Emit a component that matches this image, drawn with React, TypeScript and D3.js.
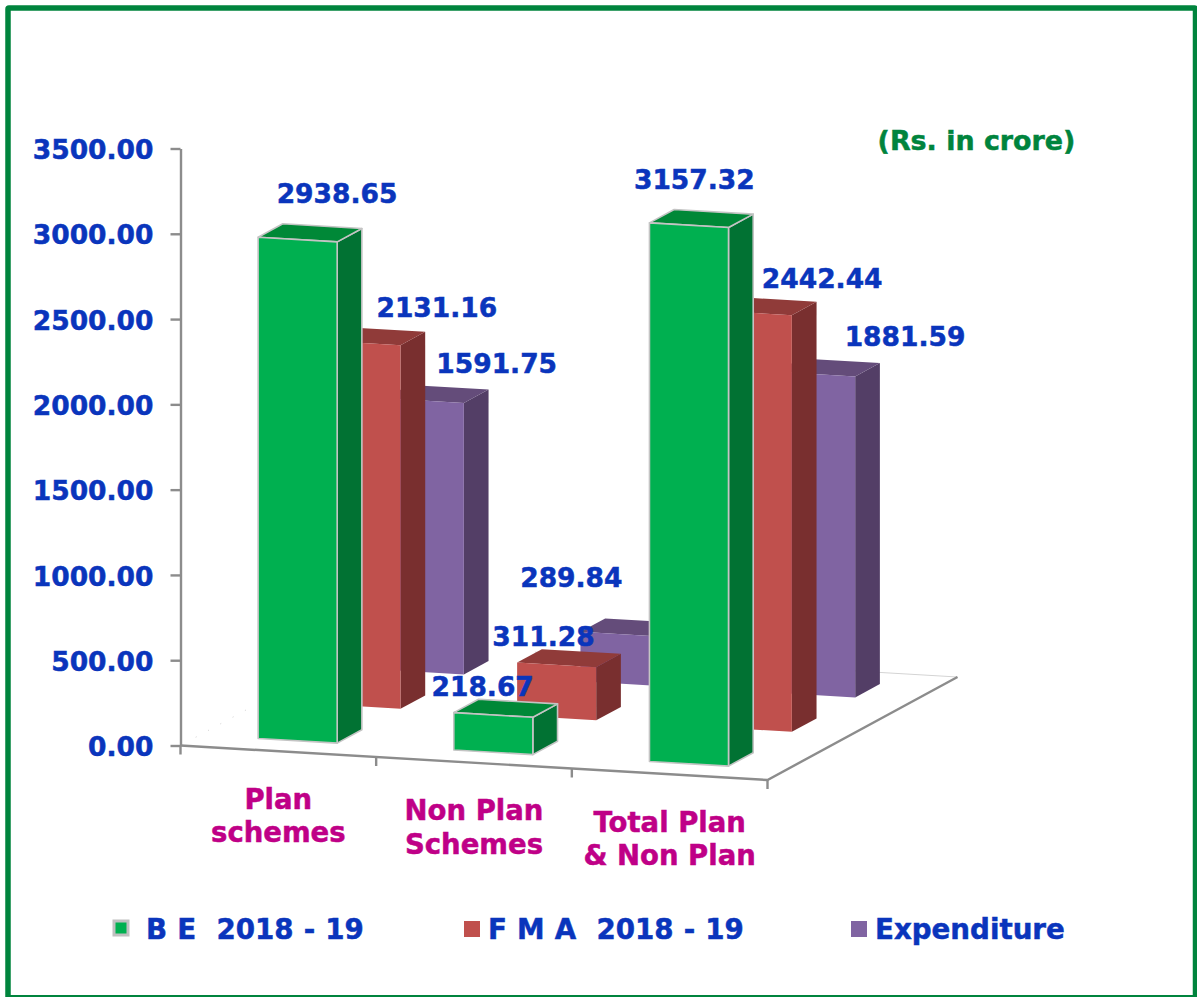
import { useEffect, useRef } from "react";
import * as d3 from "d3";

const categories = ["Plan schemes", "Non Plan Schemes", "Total Plan & Non Plan"];
const categoryLines = [["Plan", "schemes"], ["Non Plan", "Schemes"], ["Total Plan", "& Non Plan"]];
const seriesNames = ["B E  2018 - 19", "F M A  2018 - 19", "Expenditure"];
const beValues = [2938.65, 218.67, 3157.32];
const fmaValues = [2131.16, 311.28, 2442.44];
const expenditureValues = [1591.75, 289.84, 1881.59];
const yTicks = [0, 500, 1000, 1500, 2000, 2500, 3000, 3500];

const frontColors = ["#00B050", "#C0504D", "#8064A2"];
const sideColors = ["#017233", "#792F2F", "#533E66"];
const topColors = ["#008837", "#903B39", "#644C7A"];

// hand placed data labels, offset from the centre of each bar top [series][category]
const labelOffsets = [
  [[27, -39], [-23, -22], [-7, -39]],
  [[63, -28.5], [-26, -22], [57, -27.5]],
  [[59, -30], [-62, -50], [76, -31]]
];

const FONT = "'DejaVu Sans', Verdana, sans-serif";
const BLUE = "#0A35BC";
const MAGENTA = "#BF0087";
const GREEN = "#00843D";
const AXIS = "#8c8c8c";

export default function App() {
  const ref = useRef<SVGSVGElement>(null);

  useEffect(() => {
    const width = 1197;
    const height = 997;
    const seriesValues = [beValues, fmaValues, expenditureValues];

    const svg = d3.select(ref.current);
    svg.selectAll("*").remove();

    svg.attr("width", width)
      .attr("height", height)
      .attr("viewBox", [0, 0, width, height].join(" "))
      .attr("style", `position:absolute;left:0;top:0;display:block;font-family:${FONT};font-weight:bold;`);

    // frame, its bottom edge runs off the picture
    svg.append("rect")
      .attr("x", 8).attr("y", 8)
      .attr("width", 1187.5).attr("height", 989.7)
      .attr("rx", 1)
      .attr("fill", "white")
      .attr("stroke", GREEN)
      .attr("stroke-width", 5.5);

    // floor coordinates are 0..1 across categories and 0..1 in depth
    const y = d3.scaleLinear().domain([0, 3500]).range([745.5, 148.5]);
    const alongX = d3.scaleLinear().domain([0, 1]).range([0, 587]);
    const alongY = d3.scaleLinear().domain([0, 1]).range([0, 34.5]);
    const depthX = d3.scaleLinear().domain([0, 1]).range([0, 190]);
    const depthY = d3.scaleLinear().domain([0, 1]).range([0, -103]);
    const xBase = 180.5;

    const project = (u: number, w: number, v: number): [number, number] => [
      xBase + alongX(u) + depthX(w),
      y(v) + alongY(u) + depthY(w)
    ];

    const catBand = d3.scaleBand<string>()
      .domain(categories).range([0, 1]).paddingInner(0.596).paddingOuter(0.298);
    const rowBand = d3.scaleBand<string>()
      .domain(seriesNames).range([0, 1]).paddingInner(0.61).paddingOuter(0.305);

    const polygon = (pts: [number, number][]) => d3.line()(pts) + "Z";

    // floor edges
    svg.append("path")
      .attr("d", d3.line()([project(0.28, 1, 0), project(1, 1, 0)]))
      .attr("fill", "none")
      .attr("stroke", "#d4d4d4")
      .attr("stroke-width", 1);
    svg.append("path")
      .attr("d", d3.line()([project(0, 0.08, 0), project(0, 0.39, 0)]))
      .attr("fill", "none")
      .attr("stroke", "#d0d0d0")
      .attr("stroke-width", 1)
      .attr("stroke-dasharray", "1 13");
    svg.append("path")
      .attr("d", d3.line()([project(0, 0, 0), project(1, 0, 0), project(1, 1, 0)]))
      .attr("fill", "none")
      .attr("stroke", AXIS)
      .attr("stroke-width", 2.4);

    // category ticks under the front edge
    svg.append("g")
      .selectAll("line")
      .data(d3.range(categories.length + 1))
      .join("line")
      .attr("x1", d => project(d / categories.length, 0, 0)[0])
      .attr("x2", d => project(d / categories.length, 0, 0)[0])
      .attr("y1", d => project(d / categories.length, 0, 0)[1])
      .attr("y2", d => project(d / categories.length, 0, 0)[1] + 9)
      .attr("stroke", AXIS)
      .attr("stroke-width", 2.4);

    // y axis
    const axis = svg.append("g")
      .attr("transform", `translate(${xBase},0)`)
      .call(d3.axisLeft(y)
        .tickValues(yTicks)
        .tickFormat(d3.format(".2f"))
        .tickSize(10)
        .tickSizeOuter(0)
        .tickPadding(17));
    axis.selectAll("path, line").attr("stroke", AXIS).attr("stroke-width", 2.4);
    axis.selectAll("text")
      .attr("fill", BLUE)
      .attr("stroke", BLUE)
      .attr("stroke-width", 0.5)
      .attr("dy", "0.38em")
      .attr("font-size", 26.5)
      .attr("font-family", FONT)
      .attr("font-weight", "bold");

    // bars, back row first
    const bars = svg.append("g");
    d3.range(seriesNames.length - 1, -1, -1).forEach(r => {
      categories.forEach((c, i) => {
        const v = seriesValues[r][i];
        const u0 = catBand(c) as number;
        const u1 = u0 + catBand.bandwidth();
        const w0 = rowBand(seriesNames[r]) as number;
        const w1 = w0 + rowBand.bandwidth();
        const bar = bars.append("g")
          .attr("stroke", r === 0 ? "#c4c4c4" : "none")
          .attr("stroke-width", 1.6)
          .attr("stroke-linejoin", "round");
        bar.append("path")
          .attr("fill", sideColors[r])
          .attr("d", polygon([project(u1, w0, 0), project(u1, w1, 0), project(u1, w1, v), project(u1, w0, v)]));
        bar.append("path")
          .attr("fill", topColors[r])
          .attr("d", polygon([project(u0, w0, v), project(u1, w0, v), project(u1, w1, v), project(u0, w1, v)]));
        bar.append("path")
          .attr("fill", frontColors[r])
          .attr("d", polygon([project(u0, w0, 0), project(u1, w0, 0), project(u1, w0, v), project(u0, w0, v)]));
      });
    });

    // value labels
    const labels = svg.append("g")
      .attr("fill", BLUE)
      .attr("stroke", BLUE)
      .attr("stroke-width", 0.5)
      .attr("font-size", 26.5)
      .attr("text-anchor", "middle");
    seriesNames.forEach((s, r) => {
      categories.forEach((c, i) => {
        const v = seriesValues[r][i];
        const [cx, cy] = project(
          (catBand(c) as number) + catBand.bandwidth() / 2,
          (rowBand(s) as number) + rowBand.bandwidth() / 2,
          v
        );
        labels.append("text")
          .attr("x", cx + labelOffsets[r][i][0] + r * 0.5)
          .attr("y", cy + labelOffsets[r][i][1])
          .attr("dy", "0.36em")
          .text(v.toFixed(2));
      });
    });

    // category labels
    const catLabels = svg.append("g")
      .attr("fill", MAGENTA)
      .attr("stroke", MAGENTA)
      .attr("stroke-width", 0.5)
      .attr("font-size", 27.5)
      .attr("text-anchor", "middle");
    categories.forEach((c, i) => {
      const [cx, cy] = project((i + 0.5) / categories.length, 0, 0);
      categoryLines[i].forEach((line, j) => {
        catLabels.append("text")
          .attr("x", cx)
          .attr("y", cy + 57.5 + j * 33.5)
          .text(line);
      });
    });

    // units note
    svg.append("text")
      .attr("x", 976.5)
      .attr("y", 150)
      .attr("text-anchor", "middle")
      .attr("fill", GREEN)
      .attr("stroke", GREEN)
      .attr("stroke-width", 0.5)
      .attr("font-size", 26.9)
      .text("(Rs. in crore)");

    // legend
    const legendSwatchX = [114, 464, 851];
    const legendTextX = [146, 488, 875];
    const legend = svg.append("g");
    seriesNames.forEach((s, r) => {
      legend.append("rect")
        .attr("x", legendSwatchX[r])
        .attr("y", 921)
        .attr("width", r === 0 ? 14 : 16)
        .attr("height", r === 0 ? 14 : 16)
        .attr("fill", frontColors[r])
        .attr("stroke", r === 0 ? "#c0c0c0" : "none")
        .attr("stroke-width", 3);
      legend.append("text")
        .attr("x", legendTextX[r])
        .attr("y", 939)
        .attr("fill", BLUE)
        .attr("stroke", BLUE)
        .attr("stroke-width", 0.5)
        .attr("font-size", 27.7)
        .attr("style", "white-space:pre;word-spacing:0.5px")
        .text(s);
    });
  }, []);

  return <svg ref={ref}></svg>;
}
